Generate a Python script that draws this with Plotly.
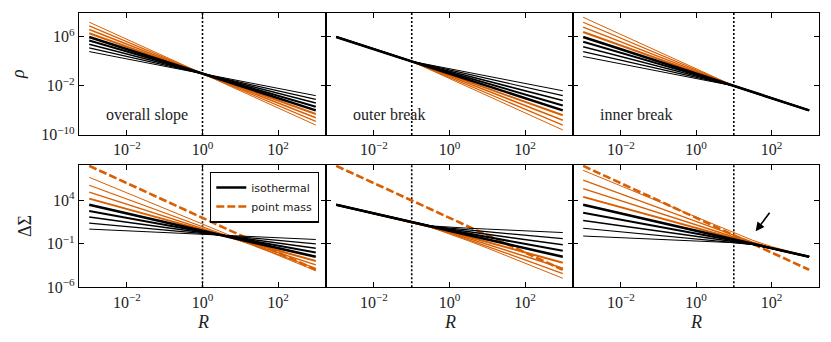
import numpy as np
import plotly.graph_objects as go
from plotly.subplots import make_subplots

# slopes of the 3D density power laws; gamma = 2 is the isothermal case
GAMMAS = [1.2, 1.4, 1.6, 1.8, 2.0, 2.2, 2.4, 2.6, 2.8]
ISOTHERMAL = 2.0
BREAKS = [1.0, 0.1, 10.0]
PANEL_LABELS = ["overall slope", "outer break", "inner break"]

# --- top row: log10 rho ---
R_RHO_SLOPE = [1e-3, 1e3]
LOGRHO_SLOPE = [[3.6, -3.6], [4.2, -4.2], [4.8, -4.8], [5.4, -5.4], [6.0, -6.0],
                [6.6, -6.6], [7.2, -7.2], [7.8, -7.8], [8.4, -8.4]]
R_RHO_OUTER = [1e-3, 1e-1, 1e3]
LOGRHO_OUTER = [[6, 2, -2.8], [6, 2, -3.6], [6, 2, -4.4], [6, 2, -5.2], [6, 2, -6.0],
                [6, 2, -6.8], [6, 2, -7.6], [6, 2, -8.4], [6, 2, -9.2]]
R_RHO_INNER = [1e-3, 10, 1e3]
LOGRHO_INNER = [[2.8, -2, -6], [3.6, -2, -6], [4.4, -2, -6], [5.2, -2, -6], [6.0, -2, -6],
                [6.8, -2, -6], [7.6, -2, -6], [8.4, -2, -6], [9.2, -2, -6]]

# --- bottom row: log10 DeltaSigma ---
R_DS_SLOPE = [1e-3, 1e3]
LOGDS_SLOPE = [[0.70, -0.50], [1.40, -1.01], [2.09, -1.51], [2.79, -2.01], [3.50, -2.50],
               [4.22, -2.98], [4.97, -3.43], [5.76, -3.84], [6.68, -4.12]]
R_DS_OUTER = [1e-3, 1e-1, 10 ** -0.5, 1, 10 ** 0.5, 10, 10 ** 1.5, 100, 1e3]
LOGDS_OUTER = [
    [3.50, 1.48, 1.07, 0.91, 0.80, 0.70, 0.60, 0.50, 0.30],
    [3.50, 1.49, 1.06, 0.81, 0.60, 0.40, 0.20, -0.01, -0.41],
    [3.50, 1.49, 1.04, 0.70, 0.39, 0.09, -0.21, -0.51, -1.11],
    [3.50, 1.49, 1.02, 0.60, 0.19, -0.21, -0.61, -1.01, -1.81],
    [3.50, 1.50, 1.00, 0.50, 0.00, -0.50, -1.00, -1.50, -2.50],
    [3.50, 1.50, 0.98, 0.40, -0.19, -0.78, -1.38, -1.98, -3.18],
    [3.50, 1.50, 0.95, 0.31, -0.36, -1.05, -1.74, -2.44, -3.83],
    [3.50, 1.51, 0.93, 0.23, -0.51, -1.28, -2.07, -2.85, -4.44],
    [3.50, 1.50, 0.91, 0.16, -0.65, -1.49, -2.35, -3.22, -4.98],
]
R_DS_INNER = [1e-3, 10, 10 ** 1.5, 100, 1e3]
LOGDS_INNER = [
    [-0.10, -0.87, -1.09, -1.53, -2.50],
    [0.80, -0.79, -1.07, -1.52, -2.50],
    [1.69, -0.70, -1.06, -1.52, -2.50],
    [2.59, -0.61, -1.03, -1.51, -2.50],
    [3.50, -0.50, -1.00, -1.50, -2.50],
    [4.42, -0.38, -0.96, -1.49, -2.50],
    [5.37, -0.24, -0.90, -1.47, -2.50],
    [6.36, -0.04, -0.80, -1.43, -2.50],
    [7.48, 0.28, -0.59, -1.32, -2.48],
]
R_POINT_MASS = [1e-3, 1e3]
LOGDS_POINT_MASS = [8.0, -4.0]

ORANGE = "#d95f02"
INK = "#222222"
WIDTHS = [1.0, 1.2, 1.5, 2.0, 2.6, 2.0, 1.5, 1.2, 1.0]
SERIF = "Liberation Serif"
SANS = "DejaVu Sans"

fig = make_subplots(rows=2, cols=3)


def add_family(R, logs, row, col, legend=False):
    # orange first, then black, the isothermal one on top
    order = [8, 7, 6, 5, 0, 1, 2, 3, 4]
    for i in order:
        g = GAMMAS[i]
        iso = g == ISOTHERMAL
        fig.add_trace(
            go.Scatter(
                x=R,
                y=10 ** np.array(logs[i]),
                mode="lines",
                line=dict(color="black" if g <= ISOTHERMAL else ORANGE, width=WIDTHS[i]),
                name="isothermal" if iso else f"gamma={g}",
                showlegend=bool(legend and iso),
                legendrank=1,
                hoverinfo="skip",
            ),
            row=row,
            col=col,
        )


def add_point_mass(row, col, legend=False):
    fig.add_trace(
        go.Scatter(
            x=R_POINT_MASS,
            y=10 ** np.array(LOGDS_POINT_MASS),
            mode="lines",
            line=dict(color=ORANGE, width=2.6, dash="8px,3px"),
            name="point mass",
            showlegend=legend,
            legendrank=2,
            hoverinfo="skip",
        ),
        row=row,
        col=col,
    )


add_family(R_RHO_SLOPE, LOGRHO_SLOPE, 1, 1)
add_family(R_RHO_OUTER, LOGRHO_OUTER, 1, 2)
add_family(R_RHO_INNER, LOGRHO_INNER, 1, 3)

add_point_mass(2, 1, legend=True)
add_family(R_DS_SLOPE, LOGDS_SLOPE, 2, 1, legend=True)
add_point_mass(2, 2)
add_family(R_DS_OUTER, LOGDS_OUTER, 2, 2)
add_point_mass(2, 3)
add_family(R_DS_INNER, LOGDS_INNER, 2, 3)

W, H = 831, 342
cols_px = [(79, 326), (326, 573), (573, 819.3)]
rows_px = [(12.7, 135), (165, 287.3)]

axis_style = dict(
    type="log",
    automargin=False,
    showline=True,
    linecolor="black",
    linewidth=1.3,
    mirror="ticks",
    ticks="inside",
    ticklen=5,
    tickwidth=1,
    tickcolor="black",
    showgrid=False,
    zeroline=False,
    tickfont=dict(family=SERIF, size=16, color=INK),
)

for r in range(2):
    for c in range(3):
        n = r * 3 + c + 1
        xa = "xaxis" if n == 1 else f"xaxis{n}"
        ya = "yaxis" if n == 1 else f"yaxis{n}"
        x0, x1 = cols_px[c]
        y0, y1 = rows_px[r]
        fig.layout[xa].update(
            domain=[x0 / W, x1 / W],
            range=[-3.27, 3.27],
            tickvals=[1e-2, 1, 1e2],
            ticktext=["10<sup>−2</sup>", "10<sup>0</sup>", "10<sup>2</sup>"],
            **axis_style,
        )
        if r == 0:
            yvals = [1e-10, 1e-2, 1e6]
            ytext = ["10<sup>−10</sup>", "10<sup>−2</sup>", "10<sup>6</sup>"]
            yrange = [-10.02, 9.95]
        else:
            yvals = [1e-6, 1e-1, 1e4]
            ytext = ["10<sup>−6</sup>", "10<sup>−1</sup>", "10<sup>4</sup>"]
            yrange = [-6.02, 8.1]
        fig.layout[ya].update(
            domain=[1 - y1 / H, 1 - y0 / H],
            range=yrange,
            tickvals=yvals,
            ticktext=ytext,
            showticklabels=(c == 0),
            **axis_style,
        )
        # dotted break line (shape x is in data units here)
        xref = "x" if n == 1 else f"x{n}"
        yref = "y" if n == 1 else f"y{n}"
        fig.add_shape(
            type="line",
            xref=xref,
            yref=f"{yref} domain",
            x0=BREAKS[c],
            x1=BREAKS[c],
            y0=0,
            y1=1,
            line=dict(color="black", width=1.6, dash="2px,2px"),
            layer="below",
        )

annotations = []
for c, label in enumerate(PANEL_LABELS):
    xref = "x" if c == 0 else f"x{c + 1}"
    yref = "y" if c == 0 else f"y{c + 1}"
    annotations.append(
        dict(
            text=label,
            xref=f"{xref} domain",
            yref=f"{yref} domain",
            x=0.10,
            y=0.165,
            xanchor="left",
            yanchor="middle",
            showarrow=False,
            font=dict(family=SERIF, size=16, color=INK),
        )
    )

# axis titles
annotations.append(dict(text="<i>ρ</i>", xref="paper", yref="paper", x=18 / W, y=1 - 74 / H,
                        xanchor="center", yanchor="middle", textangle=-90, showarrow=False,
                        font=dict(family=SERIF, size=18, color=INK)))
annotations.append(dict(text="ΔΣ", xref="paper", yref="paper", x=25 / W, y=1 - 226 / H,
                        xanchor="center", yanchor="middle", textangle=-90, showarrow=False,
                        font=dict(family=SERIF, size=18, color=INK)))
for c in range(3):
    x0, x1 = cols_px[c]
    annotations.append(dict(text="<i>R</i>", xref="paper", yref="paper",
                            x=(x0 + x1) / 2 / W, y=1 - 322 / H,
                            xanchor="center", yanchor="middle", showarrow=False,
                            font=dict(family=SERIF, size=18, color=INK)))

# arrow in the inner-break lensing panel
annotations.append(
    dict(
        text="",
        xref="x6",
        yref="y6",
        axref="x6",
        ayref="y6",
        x=1.58,
        y=0.45,
        ax=1.98,
        ay=2.75,
        showarrow=True,
        arrowhead=2,
        arrowsize=1.1,
        arrowwidth=1.6,
        arrowcolor="black",
    )
)

fig.update_layout(
    width=W,
    height=H,
    margin=dict(l=0, r=0, t=0, b=0),
    plot_bgcolor="white",
    paper_bgcolor="white",
    annotations=annotations,
    showlegend=True,
    legend=dict(
        x=319 / W,
        y=1 - 171.7 / H,
        xanchor="right",
        yanchor="top",
        bordercolor="black",
        borderwidth=1.3,
        bgcolor="white",
        font=dict(family=SANS, size=11, color=INK),
        tracegroupgap=0,
    ),
)

fig.write_html(
    "out.html",
    config={"displayModeBar": False},
    post_script="document.body.style.margin='0px';",
)
